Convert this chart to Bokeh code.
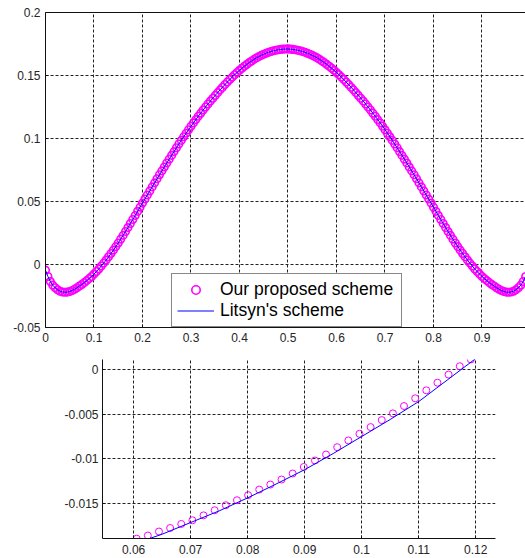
from bokeh.plotting import figure
from bokeh.models import Range1d, FixedTicker, LinearAxis, Legend, LegendItem
from bokeh.embed import file_html
from bokeh.resources import INLINE

# ---------------- data: full view ----------------
top_x = [
    0.000, 0.005, 0.010, 0.015, 0.020, 0.025, 0.030, 0.035, 0.040, 0.045,
    0.050, 0.055, 0.060, 0.065, 0.070, 0.075, 0.080, 0.085, 0.090, 0.095,
    0.100, 0.105, 0.110, 0.115, 0.120, 0.125, 0.130, 0.135, 0.140, 0.145,
    0.150, 0.155, 0.160, 0.165, 0.170, 0.175, 0.180, 0.185, 0.190, 0.195,
    0.200, 0.205, 0.210, 0.215, 0.220, 0.225, 0.230, 0.235, 0.240, 0.245,
    0.250, 0.255, 0.260, 0.265, 0.270, 0.275, 0.280, 0.285, 0.290, 0.295,
    0.300, 0.305, 0.310, 0.315, 0.320, 0.325, 0.330, 0.335, 0.340, 0.345,
    0.350, 0.355, 0.360, 0.365, 0.370, 0.375, 0.380, 0.385, 0.390, 0.395,
    0.400, 0.405, 0.410, 0.415, 0.420, 0.425, 0.430, 0.435, 0.440, 0.445,
    0.450, 0.455, 0.460, 0.465, 0.470, 0.475, 0.480, 0.485, 0.490, 0.495,
    0.500, 0.505, 0.510, 0.515, 0.520, 0.525, 0.530, 0.535, 0.540, 0.545,
    0.550, 0.555, 0.560, 0.565, 0.570, 0.575, 0.580, 0.585, 0.590, 0.595,
    0.600, 0.605, 0.610, 0.615, 0.620, 0.625, 0.630, 0.635, 0.640, 0.645,
    0.650, 0.655, 0.660, 0.665, 0.670, 0.675, 0.680, 0.685, 0.690, 0.695,
    0.700, 0.705, 0.710, 0.715, 0.720, 0.725, 0.730, 0.735, 0.740, 0.745,
    0.750, 0.755, 0.760, 0.765, 0.770, 0.775, 0.780, 0.785, 0.790, 0.795,
    0.800, 0.805, 0.810, 0.815, 0.820, 0.825, 0.830, 0.835, 0.840, 0.845,
    0.850, 0.855, 0.860, 0.865, 0.870, 0.875, 0.880, 0.885, 0.890, 0.895,
    0.900, 0.905, 0.910, 0.915, 0.920, 0.925, 0.930, 0.935, 0.940, 0.945,
    0.950, 0.955, 0.960, 0.965, 0.970, 0.975, 0.980, 0.985, 0.990,
]
top_y = [
    -0.0045, -0.0095, -0.0135, -0.0164, -0.0185, -0.0200, -0.0212, -0.0218, -0.0220, -0.0219,
    -0.0214, -0.0206, -0.0196, -0.0184, -0.0171, -0.0158, -0.0144, -0.0128, -0.0112, -0.0095,
    -0.0076, -0.0056, -0.0035, -0.0012, 0.0011, 0.0035, 0.0061, 0.0087, 0.0114, 0.0142,
    0.0171, 0.0201, 0.0231, 0.0262, 0.0293, 0.0325, 0.0357, 0.0389, 0.0422, 0.0455,
    0.0488, 0.0520, 0.0552, 0.0584, 0.0616, 0.0648, 0.0680, 0.0712, 0.0743, 0.0774,
    0.0805, 0.0836, 0.0866, 0.0896, 0.0926, 0.0956, 0.0985, 0.1014, 0.1042, 0.1070,
    0.1097, 0.1124, 0.1150, 0.1176, 0.1201, 0.1226, 0.1250, 0.1274, 0.1297, 0.1320,
    0.1342, 0.1364, 0.1386, 0.1407, 0.1428, 0.1448, 0.1468, 0.1487, 0.1506, 0.1524,
    0.1541, 0.1557, 0.1573, 0.1588, 0.1602, 0.1615, 0.1628, 0.1640, 0.1650, 0.1660,
    0.1669, 0.1677, 0.1684, 0.1690, 0.1696, 0.1700, 0.1704, 0.1707, 0.1709, 0.1710,
    0.1711, 0.1709, 0.1707, 0.1704, 0.1700, 0.1696, 0.1690, 0.1684, 0.1677, 0.1669,
    0.1660, 0.1650, 0.1640, 0.1628, 0.1615, 0.1602, 0.1588, 0.1573, 0.1557, 0.1541,
    0.1524, 0.1506, 0.1487, 0.1468, 0.1448, 0.1428, 0.1407, 0.1386, 0.1364, 0.1342,
    0.1320, 0.1297, 0.1274, 0.1250, 0.1226, 0.1201, 0.1176, 0.1150, 0.1124, 0.1097,
    0.1070, 0.1042, 0.1014, 0.0985, 0.0956, 0.0926, 0.0896, 0.0866, 0.0836, 0.0805,
    0.0774, 0.0743, 0.0712, 0.0680, 0.0648, 0.0616, 0.0584, 0.0552, 0.0520, 0.0488,
    0.0455, 0.0422, 0.0389, 0.0357, 0.0325, 0.0293, 0.0262, 0.0231, 0.0201, 0.0171,
    0.0142, 0.0114, 0.0087, 0.0061, 0.0035, 0.0011, -0.0012, -0.0035, -0.0056, -0.0076,
    -0.0095, -0.0112, -0.0128, -0.0144, -0.0158, -0.0171, -0.0184, -0.0196, -0.0206, -0.0214,
    -0.0219, -0.0220, -0.0218, -0.0212, -0.0200, -0.0185, -0.0164, -0.0135, -0.0095,
]
top_xticks = [0, 0.1, 0.2, 0.3, 0.4, 0.5, 0.6, 0.7, 0.8, 0.9]
top_xlabels = ["0", "0.1", "0.2", "0.3", "0.4", "0.5", "0.6", "0.7", "0.8", "0.9"]
top_yticks = [-0.05, 0, 0.05, 0.1, 0.15, 0.2]
top_ylabels = ["-0.05", "0", "0.05", "0.1", "0.15", "0.2"]

# ---------------- data: zoomed view ----------------
zoom_x = [0.06055, 0.06250, 0.06445, 0.06641, 0.06836, 0.07031, 0.07227, 0.07422,
          0.07617, 0.07813, 0.08008, 0.08203, 0.08398, 0.08594, 0.08789, 0.08984,
          0.09180, 0.09375, 0.09570, 0.09766, 0.09961, 0.10156, 0.10352, 0.10547,
          0.10742, 0.10938, 0.11133, 0.11328, 0.11523, 0.11719, 0.11914]
zoom_ours = [-0.0189, -0.01855, -0.0181, -0.01771, -0.01726, -0.01685, -0.0163, -0.01573,
             -0.01517, -0.01461, -0.01405, -0.01342, -0.01286, -0.0123, -0.01163, -0.0109,
             -0.01018, -0.00951, -0.00869, -0.00794, -0.0072, -0.00645, -0.00567, -0.00492,
             -0.0041, -0.00324, -0.00235, -0.0015, -0.00059, 0.00034, 0.0011]
zoom_line_x = [0.060, 0.065, 0.070, 0.075, 0.080, 0.085, 0.090, 0.095, 0.100, 0.105,
               0.110, 0.115, 0.120]
zoom_litsyn = [-0.0195, -0.0184, -0.0171, -0.0158, -0.01435, -0.0128, -0.0112, -0.0094,
               -0.0075, -0.0056, -0.0036, -0.0012, 0.0012]
zoom_xticks = [0.06, 0.07, 0.08, 0.09, 0.1, 0.11, 0.12]
zoom_xlabels = ["0.06", "0.07", "0.08", "0.09", "0.1", "0.11", "0.12"]
zoom_yticks = [-0.015, -0.01, -0.005, 0]
zoom_ylabels = ["-0.015", "-0.01", "-0.005", "0"]

FONT = "Liberation Sans"
MAGENTA = "#ff00ff"
BLUE = "#0000ff"


def style_axis(ax, ticks, labels, standoff):
    ax.ticker = FixedTicker(ticks=ticks)
    ax.major_label_overrides = {t: s for t, s in zip(ticks, labels)}
    ax.major_label_text_font = FONT
    ax.major_label_text_font_size = "12px"
    ax.major_label_text_color = "#262626"
    ax.major_label_standoff = standoff
    ax.axis_line_color = "#111111"
    ax.axis_line_width = 1
    ax.major_tick_in = 3
    ax.major_tick_out = 0
    ax.major_tick_line_color = "#111111"
    ax.minor_tick_line_color = None


def style_grid(p, xt, yt):
    p.xgrid.ticker = FixedTicker(ticks=xt)
    p.ygrid.ticker = FixedTicker(ticks=yt)
    for g in (p.xgrid, p.ygrid):
        g.grid_line_color = "#222222"
        g.grid_line_dash = "3 2"
        g.grid_line_width = 1
        g.grid_line_alpha = 1.0


# ---------------- top figure ----------------
p1 = figure(width=525, height=348, output_backend="svg", toolbar_location=None,
            x_range=Range1d(0, 0.9897), y_range=Range1d(-0.05, 0.2),
            min_border_left=45, min_border_right=0, min_border_top=12, min_border_bottom=21)
p1.outline_line_color = None
p1.background_fill_color = "white"
p1.border_fill_color = "white"
style_axis(p1.xaxis[0], top_xticks, top_xlabels, 5)
style_axis(p1.yaxis[0], top_yticks, top_ylabels, 5)
top_axis = LinearAxis(ticker=FixedTicker(ticks=[]), major_label_standoff=0,
                      major_tick_in=0, major_tick_out=0,
                      minor_tick_line_color=None, axis_line_color="#111111")
p1.add_layout(top_axis, "above")
# grid lines that would sit on the axes themselves are left out
style_grid(p1, top_xticks[1:], top_yticks[1:-1])

c1 = p1.scatter(top_x, top_y, marker="circle", size=7.5, fill_color=None,
                line_color=MAGENTA, line_width=1.6)
l1 = p1.line(top_x, top_y, line_color=BLUE, line_width=1)

legend = Legend(items=[LegendItem(label="Our proposed scheme", renderers=[c1]),
                       LegendItem(label="Litsyn's scheme", renderers=[l1])],
                location=(126, 0))
legend.label_text_font = FONT
legend.label_text_font_size = "17.5px"
legend.label_text_color = "black"
legend.glyph_width = 37
legend.glyph_height = 21
legend.label_height = 21
legend.label_width = 176
legend.label_standoff = 6
legend.padding = 5
legend.spacing = 0
legend.margin = 0
legend.border_line_color = "#111111"
legend.border_line_width = 1
legend.background_fill_color = "white"
legend.background_fill_alpha = 1.0
p1.add_layout(legend)

# ---------------- bottom figure ----------------
p2 = figure(width=525, height=210, output_backend="svg", toolbar_location=None,
            x_range=Range1d(0.05455, 0.12346), y_range=Range1d(-0.01888, 0.00109),
            min_border_left=102, min_border_right=30, min_border_top=11, min_border_bottom=20)
p2.outline_line_color = None
p2.background_fill_color = "white"
p2.border_fill_color = "white"
style_axis(p2.xaxis[0], zoom_xticks, zoom_xlabels, 6)
style_axis(p2.yaxis[0], zoom_yticks, zoom_ylabels, 4)
style_grid(p2, zoom_xticks, zoom_yticks)

p2.scatter(zoom_x, zoom_ours, marker="circle", size=7, fill_color=None,
           line_color=MAGENTA, line_width=1)
p2.line(zoom_line_x, zoom_litsyn, line_color=BLUE, line_width=1)

# two independent roots stacked vertically (no frame alignment between them)
open("out.html", "w").write(file_html([p1, p2], INLINE))
